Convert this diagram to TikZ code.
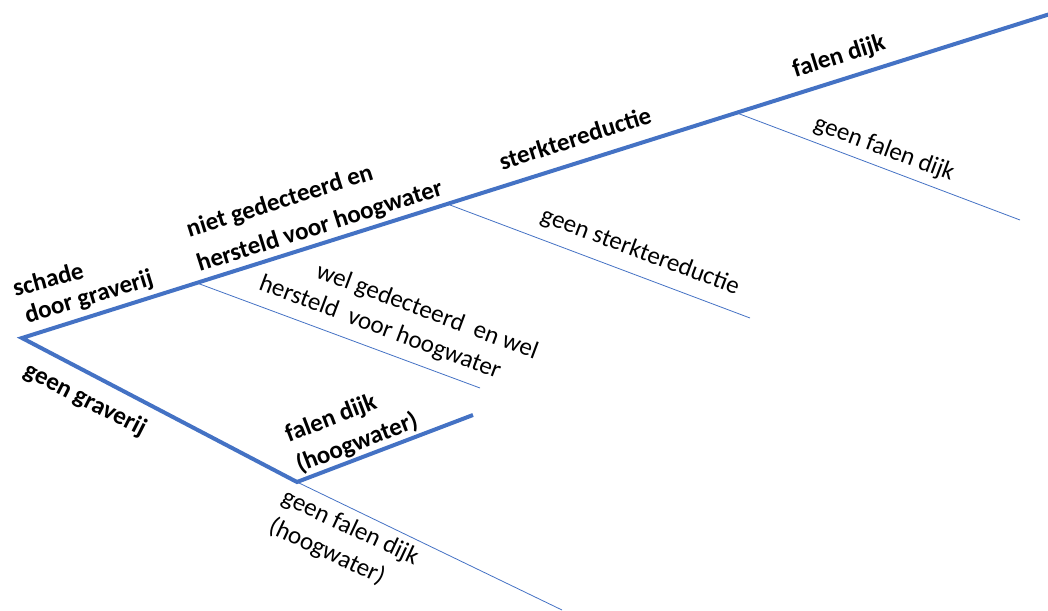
\documentclass[tikz,border=0pt]{standalone}
\usepackage{fontspec}
\setmainfont{Carlito}
\definecolor{branch}{HTML}{4472C4}
\begin{document}
\begin{tikzpicture}[x=1pt,y=-1pt,
  thickbr/.style={draw=branch,line width=4pt,line join=miter},
  thinbr/.style={draw=branch,line width=0.8pt},
  lbl/.style={font=\fontsize{25}{29}\selectfont,inner sep=0pt,anchor=center},
  blbl/.style={lbl,font=\fontsize{25}{29}\selectfont\bfseries}]
\useasboundingbox (0,0) rectangle (1048,610);
% branch points
\coordinate (r) at (22,338);
\coordinate (top) at (1050,14);
\coordinate (p1) at (197,283);
\coordinate (p2) at (450,205);
\coordinate (p3) at (737,113);
\coordinate (lb) at (297,482);
\coordinate (lf) at (473,415);
\coordinate (t1) at (480,388);
\coordinate (t2) at (750,318);
\coordinate (t3) at (1020,220);
\coordinate (t4) at (562,610);
% connectors
\draw[thickbr] (top) -- (r) -- (lb) -- (lf);
\draw[thinbr] (p1) -- (t1);
\draw[thinbr] (p2) -- (t2);
\draw[thinbr] (p3) -- (t3);
\draw[thinbr] (lb) -- (t4);
% labels
\node[blbl,rotate=15] (l1) at (48,279) {schade};
\node[blbl,rotate=17] (l2) at (89,298) {door graverij};
\node[blbl,rotate=17.5] (l3) at (280,202) {niet gedecteerd en};
\node[blbl,rotate=17.5] (l4) at (320,227) {hersteld voor hoogwater};
\node[lbl,rotate=-20.5] (l5) at (427,312) {wel gedecteerd\ \ en wel};
\node[lbl,rotate=-20.5] (l6) at (380,328) {hersteld\ \ voor hoogwater};
\node[blbl,rotate=17.5] (l7) at (575,138) {sterktereductie};
\node[lbl,rotate=-20.5] (l8) at (640,252) {geen sterktereductie};
\node[blbl,rotate=17.5] (l9) at (839,57) {falen dijk};
\node[lbl,rotate=-20.5] (l10) at (884,149) {geen\ falen dijk};
\node[blbl,rotate=-27] (l11) at (85,400) {geen graverij};
\node[blbl,rotate=21] (l12) at (331,419) {falen dijk};
\node[blbl,rotate=21] (l13) at (357,443) {(hoogwater)};
\node[lbl,rotate=-25] (l14) at (350,528) {geen falen dijk};
\node[lbl,rotate=-25] (l15) at (327,552) {(hoogwater)};
\end{tikzpicture}
\end{document}
